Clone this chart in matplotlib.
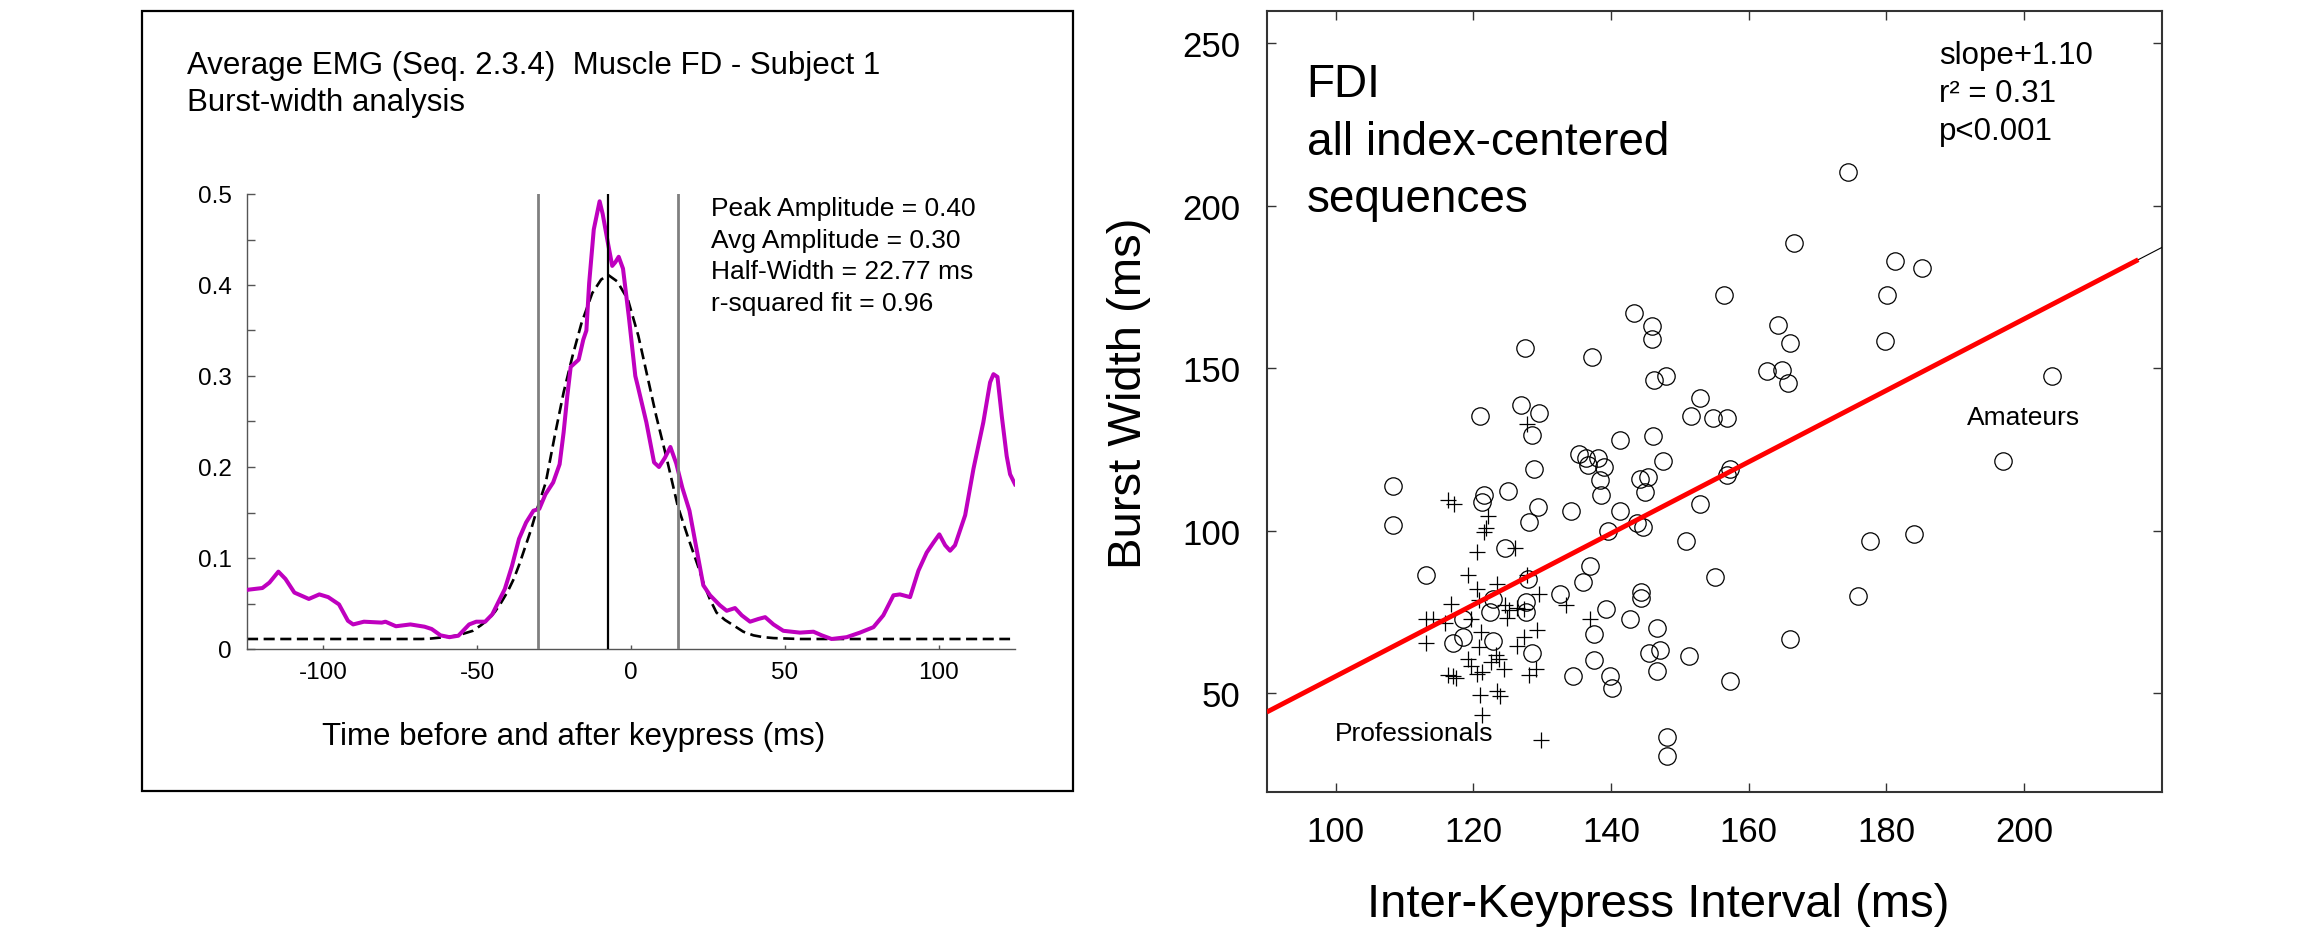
import matplotlib.pyplot as plt
from matplotlib.patches import Rectangle
from matplotlib.ticker import MultipleLocator

plt.rcParams['font.family'] = ['Liberation Sans', 'DejaVu Sans']
plt.rcParams['axes.unicode_minus'] = False

W, H = 2302, 937

# ---- left panel: average EMG burst (time in ms, amplitude) ----
emg_t = [-124.8, -119.8, -117.5, -114.6, -112.3, -109.4, -104.7, -101.3, -98.4, -94.9,
         -92.0, -90.3, -86.8, -81.0, -79.8, -76.4, -71.7, -67.1, -64.8, -61.9,
         -59.0, -56.1, -52.6, -50.3, -47.4, -45.1, -41.0, -38.7, -36.4, -34.1,
         -31.7, -29.8, -27.8, -25.3, -23.2, -21.9, -20.7, -19.6, -17.0, -15.5,
         -14.5, -13.6, -12.1, -10.2, -9.2, -7.6, -6.1, -5.1, -4.0, -2.6,
         -0.7, 1.4, 2.2, 5.0, 7.5, 9.1, 11.0, 12.8, 14.7, 16.7,
         19.0, 21.3, 23.5, 25.7, 28.9, 31.1, 33.8, 36.0, 38.7, 41.4,
         43.6, 46.3, 49.5, 54.9, 59.3, 62.0, 65.2, 70.1, 74.4, 78.8,
         82.0, 85.3, 87.4, 90.7, 93.4, 96.1, 98.3, 100.2, 102.1, 103.7,
         105.3, 108.6, 111.3, 114.5, 116.7, 117.8, 119.1, 120.5, 122.1, 123.2,
         124.8]
emg_amp = [0.065, 0.067, 0.073, 0.085, 0.077, 0.062, 0.055, 0.060, 0.057, 0.049,
           0.031, 0.027, 0.030, 0.029, 0.030, 0.025, 0.027, 0.0245, 0.022, 0.015,
           0.013, 0.0146, 0.027, 0.030, 0.030, 0.038, 0.066, 0.091, 0.121, 0.139,
           0.152, 0.154, 0.170, 0.183, 0.203, 0.238, 0.278, 0.310, 0.318, 0.340,
           0.350, 0.402, 0.461, 0.492, 0.478, 0.448, 0.421, 0.425, 0.431, 0.418,
           0.365, 0.300, 0.289, 0.249, 0.205, 0.200, 0.210, 0.222, 0.204, 0.177,
           0.152, 0.110, 0.070, 0.059, 0.048, 0.042, 0.045, 0.037, 0.030, 0.033,
           0.035, 0.027, 0.020, 0.018, 0.019, 0.015, 0.011, 0.013, 0.018, 0.024,
           0.037, 0.059, 0.060, 0.057, 0.086, 0.106, 0.117, 0.126, 0.114, 0.108,
           0.114, 0.147, 0.198, 0.249, 0.293, 0.302, 0.299, 0.256, 0.212, 0.192,
           0.181]

# gaussian fit (dashed)
fit_t = [-124.8, -68.0, -65.0, -61.3, -58.0, -55.5, -51.4, -48.8, -46.2, -44.2,
         -42.2, -40.1, -38.1, -36.3, -34.6, -32.5, -30.5, -27.7, -24.8, -21.9,
         -19.0, -16.1, -12.6, -9.7, -7.4, -4.5, -1.0, 2.4, 5.3, 8.2,
         11.7, 15.2, 18.7, 22.1, 23.5, 25.6, 27.8, 30.5, 33.3, 36.5,
         39.8, 43.0, 46.3, 55.0, 123.2]
fit_amp = [0.011, 0.011, 0.0115, 0.0128, 0.014, 0.0157, 0.020, 0.026, 0.033, 0.041,
           0.051, 0.063, 0.077, 0.093, 0.110, 0.131, 0.154, 0.183, 0.234, 0.282,
           0.322, 0.358, 0.391, 0.406, 0.411, 0.404, 0.384, 0.344, 0.300, 0.256,
           0.208, 0.157, 0.121, 0.088, 0.073, 0.055, 0.040, 0.032, 0.026, 0.019,
           0.015, 0.013, 0.012, 0.011, 0.011]

peak_t = -7.6
half_width = 22.77
emg_xticks = [-100, -50, 0, 50, 100]
emg_yticks = [0, 0.1, 0.2, 0.3, 0.4, 0.5]
emg_yticklabels = ['0', '0.1', '0.2', '0.3', '0.4', '0.5']
stats_lines = ['Peak Amplitude = 0.40', 'Avg Amplitude = 0.30',
               'Half-Width = 22.77 ms', 'r-squared fit = 0.96']

# ---- right panel: burst width vs inter-keypress interval ----
ama_iki = [156.4, 143.4, 145.9, 145.9, 127.5, 137.2, 146.2, 148.0, 153.0, 126.9,
           129.6, 121.0, 151.6, 154.8, 156.8,
           174.4, 166.6, 181.3, 185.2, 180.1, 164.2, 166.0, 179.8, 162.7, 164.9,
           165.7, 204.1,
           196.9, 177.7, 184.0, 175.9, 166.0,
           141.3, 146.1, 128.5, 135.3, 136.4, 138.1, 136.6, 139.0, 128.8, 147.6,
           157.3, 156.8, 138.4, 145.4, 144.2, 145.0, 138.6, 108.3, 121.6, 121.3,
           125.1, 129.4, 134.2, 141.3, 128.1, 143.8, 144.7, 139.6, 108.3, 153.0,
           150.9, 124.6, 136.9, 113.1, 127.9, 135.9, 132.6, 155.1, 144.3, 144.3,
           122.9, 127.7, 122.5, 127.7, 139.3, 118.5, 142.8, 146.7, 118.5, 117.0,
           122.8, 137.5, 128.5, 145.6, 147.1, 151.3, 137.5, 134.5, 139.9, 140.1,
           146.7, 157.3, 148.2, 148.2]
ama_bw = [172.4, 166.9, 162.8, 159.0, 156.2, 153.3, 146.3, 147.6, 140.7, 138.6,
          136.3, 135.2, 135.2, 134.7, 134.7,
          210.5, 188.5, 183.0, 180.9, 172.4, 163.3, 157.6, 158.2, 149.2, 149.4,
          145.5, 147.6,
          121.3, 96.8, 99.0, 79.9, 66.5,
          127.8, 129.2, 129.3, 123.7, 122.4, 122.2, 120.1, 119.6, 118.8, 121.3,
          118.8, 117.2, 115.4, 116.4, 116.0, 111.7, 110.8, 113.8, 111.0, 108.9,
          112.3, 107.2, 106.1, 106.1, 102.5, 102.2, 101.0, 99.7, 101.7, 108.1,
          96.8, 94.7, 89.2, 86.3, 85.0, 84.2, 80.6, 85.6, 81.1, 79.1,
          78.8, 78.0, 74.9, 74.9, 75.7, 72.7, 72.7, 70.0, 67.2, 65.4,
          65.9, 68.0, 62.3, 62.3, 63.1, 61.5, 60.2, 55.1, 55.1, 51.5,
          56.6, 53.8, 36.3, 30.6]

pro_iki = [116.3, 117.2, 122.2, 121.8, 121.6, 120.6, 126.1, 119.3, 123.5, 120.6,
           120.9, 116.7, 129.6, 127.8, 133.5, 124.6, 125.2, 126.4, 127.4, 124.9,
           113.1, 114.1, 115.9, 119.7, 136.9, 113.1, 129.3, 121.1, 127.4, 126.4,
           120.9, 119.2, 119.7, 123.3, 123.8, 122.6, 124.5, 116.3, 117.0, 117.5,
           120.6, 121.3, 128.1, 129.1, 121.0, 123.4, 123.9, 121.2, 129.9, 127.8]
pro_bw = [109.5, 108.1, 104.5, 100.7, 99.6, 93.3, 94.7, 86.3, 83.4, 82.1,
          78.5, 77.5, 80.6, 86.3, 77.2, 77.1, 75.6, 76.2, 75.9, 73.1,
          72.9, 72.9, 71.5, 72.9, 72.9, 65.4, 69.3, 68.8, 67.2, 64.6,
          64.2, 60.5, 58.4, 61.8, 60.5, 59.5, 57.4, 55.4, 55.3, 54.7,
          55.9, 56.4, 55.4, 57.4, 49.5, 50.7, 49.2, 43.2, 35.4, 132.9]

slope = 1.10
intercept = -54.9
red_fit_range = [90.0, 216.6]
full_fit_range = [90.0, 220.0]
iki_ticks = [100, 120, 140, 160, 180, 200]
bw_ticks = [50, 100, 150, 200, 250]


def fx(px):
    return px / W


def fy(py):
    return 1 - py / H


fig = plt.figure(figsize=(W / 100, H / 100), dpi=100)

# ---------------- left panel ----------------
fig.add_artist(Rectangle((fx(142), fy(792)), (1073 - 142) / W, (792 - 12) / H,
                         transform=fig.transFigure, fill=False, lw=1.6, ec='black'))

ax1 = fig.add_axes([fx(247), fy(650), (1015 - 247) / W, (650 - 195) / H])
ax1.plot(fit_t, fit_amp, color='black', lw=1.9, dashes=(4.2, 2.1), zorder=2)
ax1.plot(emg_t, emg_amp, color='#bf00bf', lw=2.9, zorder=3)
for t in [peak_t - half_width, peak_t + half_width]:
    ax1.axvline(t, color='#808080', lw=2.0, zorder=4)
ax1.axvline(peak_t, color='black', lw=1.6, zorder=4)

ax1.set_xlim(-124.8, 124.8)
ax1.set_ylim(0, 0.5)
ax1.set_xticks(emg_xticks)
ax1.set_yticks(emg_yticks)
ax1.set_yticklabels(emg_yticklabels)
ax1.yaxis.set_minor_locator(MultipleLocator(0.05))
for s in ['top', 'right']:
    ax1.spines[s].set_visible(False)
for s in ['left', 'bottom']:
    ax1.spines[s].set_color('#555555')
    ax1.spines[s].set_linewidth(1.0)
ax1.tick_params(axis='y', which='both', direction='in', length=5.8, width=1,
                color='#555555', labelsize=17.5, pad=11)
ax1.tick_params(axis='x', direction='in', length=3, width=1, color='#555555',
                labelsize=17.5, pad=8.7)

fig.text(fx(187), fy(74), 'Average EMG (Seq. 2.3.4)  Muscle FD - Subject 1',
         fontsize=22.5, va='baseline', ha='left')
fig.text(fx(187), fy(111), 'Burst-width analysis', fontsize=22.5,
         va='baseline', ha='left')
fig.text(fx(322), fy(745), 'Time before and after keypress (ms)', fontsize=22.5,
         va='baseline', ha='left')
for i, line in enumerate(stats_lines):
    fig.text(fx(711), fy(216 + 31.7 * i), line, fontsize=19, va='baseline', ha='left')

# ---------------- right panel ----------------
ax2 = fig.add_axes([fx(1266.7), fy(792.7), (2161.7 - 1266.7) / W, (792.7 - 11.7) / H])
ax2.plot(ama_iki, ama_bw, 'o', mfc='none', mec='black', ms=12.5, mew=0.9, zorder=2)
ax2.plot(pro_iki, pro_bw, '+', color='black', ms=12, mew=0.9, zorder=3)
ax2.plot(full_fit_range, [slope * x + intercept for x in full_fit_range],
         color='black', lw=0.8, zorder=4)
ax2.plot(red_fit_range, [slope * x + intercept for x in red_fit_range],
         color='#ff0000', lw=3.5, zorder=5, solid_capstyle='butt')

ax2.set_xlim(90, 220)
ax2.set_ylim(19.6, 260)
ax2.set_xticks(iki_ticks)
ax2.set_yticks(bw_ticks)
for s in ax2.spines.values():
    s.set_linewidth(1.5)
    s.set_color('#333333')
ax2.tick_params(which='both', direction='in', top=True, right=True, length=6.5,
                width=1, color='#333333', labelsize=25)
ax2.tick_params(axis='y', pad=19.2)
ax2.tick_params(axis='x', pad=16.8)

fig.text(fx(1658), fy(917), 'Inter-Keypress Interval (ms)', fontsize=34,
         ha='center', va='baseline')
fig.text(fx(1129), fy(393), 'Burst Width (ms)', fontsize=34, rotation=90,
         ha='center', va='center')

fig.text(fx(1306.7), fy(96.7), 'FDI', fontsize=33, va='baseline', ha='left')
fig.text(fx(1306.7), fy(155), 'all index-centered', fontsize=33, va='baseline', ha='left')
fig.text(fx(1306.7), fy(211.7), 'sequences', fontsize=33, va='baseline', ha='left')

fig.text(fx(1939), fy(64), 'slope+1.10', fontsize=22.5, va='baseline', ha='left')
fig.text(fx(1939), fy(101.7), 'r\u00b2 = 0.31', fontsize=22.5, va='baseline', ha='left')
fig.text(fx(1939), fy(140), 'p<0.001', fontsize=22.5, va='baseline', ha='left')

fig.text(fx(1966.7), fy(425), 'Amateurs', fontsize=19, va='baseline', ha='left')
fig.text(fx(1335), fy(740.7), 'Professionals', fontsize=19, va='baseline', ha='left')

fig.savefig('out.png', dpi=100)
